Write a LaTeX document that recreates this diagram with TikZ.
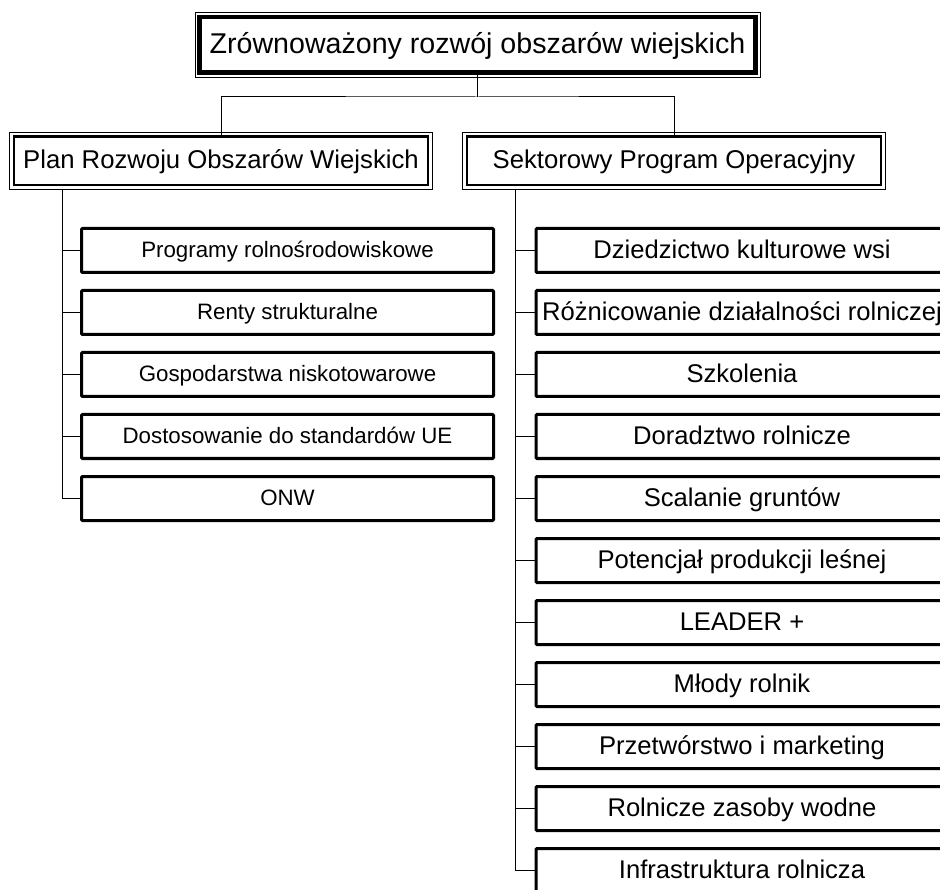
\documentclass[tikz,border=0pt]{standalone}
\usepackage{fontspec}
\setmainfont{Liberation Sans}
\usetikzlibrary{calc}

\begin{document}
\begin{tikzpicture}[x=1pt, y=-1pt,
    headbox/.style={draw, line width=4.5pt, outer sep=0pt, inner sep=0pt,
        minimum width=556pt, minimum height=55.5pt,
        font=\fontsize{28.6}{34}\selectfont, text height=22.9pt, text depth=5.7pt},
    secbox/.style={draw, line width=2.5pt, outer sep=0pt, inner sep=0pt,
        minimum width=414pt, minimum height=48.5pt,
        font=\fontsize{25.7}{31}\selectfont, text height=20.5pt, text depth=5.1pt},
    leftbox/.style={draw, line width=3pt, rounded corners=1pt, outer sep=0pt, inner sep=0pt,
        minimum width=412pt, minimum height=44pt,
        font=\fontsize{22.3}{27}\selectfont, text height=17.8pt, text depth=4.5pt},
    rightbox/.style={leftbox, font=\fontsize{25.6}{31}\selectfont, text height=20.5pt, text depth=5.1pt},
    link/.style={line width=1pt},
    frame/.style={line width=0.9pt}]
    \useasboundingbox (0,0) rectangle (940,890);

    % top of the tree
    \node[headbox] (top) at (477.5,45) {Zrównoważony rozwój obszarów wiejskich};
    \draw[frame] ($(top.north west)+(-4.5,-4.5)$) rectangle ($(top.south east)+(4.5,4.5)$);

    \node[secbox] (prow) at (221,161) {Plan Rozwoju Obszarów Wiejskich};
    \draw[frame] ($(prow.north west)+(-4.5,-4.5)$) rectangle ($(prow.south east)+(4.5,4.5)$);
    \node[secbox] (spo) at (674,161) {Sektorowy Program Operacyjny};
    \draw[frame] ($(spo.north west)+(-4.5,-4.5)$) rectangle ($(spo.south east)+(4.5,4.5)$);

    \coordinate (split) at (477.5,97);
    \draw[link] (top.south) -- (split);
    \draw[link] (prow.north) |- (split) -| (spo.north);

    % PROW
    \node[leftbox] (prog) at (287.5,250.5) {Programy rolnośrodowiskowe};
    \node[leftbox] (renty) at (287.5,312.5) {Renty strukturalne};
    \node[leftbox] (gosp) at (287.5,374.5) {Gospodarstwa niskotowarowe};
    \node[leftbox] (dost) at (287.5,436.5) {Dostosowanie do standardów UE};
    \node[leftbox] (onw) at (287.5,498.5) {ONW};

    \coordinate (ltrunk) at (62,190);
    \draw[link] (ltrunk) |- (onw.west);
    \draw[link] (prog.west) -- (prog.west -| ltrunk);
    \draw[link] (renty.west) -- (renty.west -| ltrunk);
    \draw[link] (gosp.west) -- (gosp.west -| ltrunk);
    \draw[link] (dost.west) -- (dost.west -| ltrunk);

    % SPO
    \node[rightbox] (dzie) at (742,250.5) {Dziedzictwo kulturowe wsi};
    \node[rightbox] (rozn) at (742,312.5) {Różnicowanie działalności rolniczej};
    \node[rightbox] (szko) at (742,374.5) {Szkolenia};
    \node[rightbox] (dora) at (742,436.5) {Doradztwo rolnicze};
    \node[rightbox] (scal) at (742,498.5) {Scalanie gruntów};
    \node[rightbox] (pote) at (742,560.5) {Potencjał produkcji leśnej};
    \node[rightbox] (leader) at (742,622.5) {LEADER +};
    \node[rightbox] (mlody) at (742,684.5) {Młody rolnik};
    \node[rightbox] (przet) at (742,746.5) {Przetwórstwo i marketing};
    \node[rightbox] (woda) at (742,808.5) {Rolnicze zasoby wodne};
    \node[rightbox] (infra) at (742,870.5) {Infrastruktura rolnicza};

    \coordinate (rtrunk) at (515,190);
    \draw[link] (rtrunk) |- (infra.west);
    \draw[link] (dzie.west) -- (dzie.west -| rtrunk);
    \draw[link] (rozn.west) -- (rozn.west -| rtrunk);
    \draw[link] (szko.west) -- (szko.west -| rtrunk);
    \draw[link] (dora.west) -- (dora.west -| rtrunk);
    \draw[link] (scal.west) -- (scal.west -| rtrunk);
    \draw[link] (pote.west) -- (pote.west -| rtrunk);
    \draw[link] (leader.west) -- (leader.west -| rtrunk);
    \draw[link] (mlody.west) -- (mlody.west -| rtrunk);
    \draw[link] (przet.west) -- (przet.west -| rtrunk);
    \draw[link] (woda.west) -- (woda.west -| rtrunk);
\end{tikzpicture}
\end{document}
